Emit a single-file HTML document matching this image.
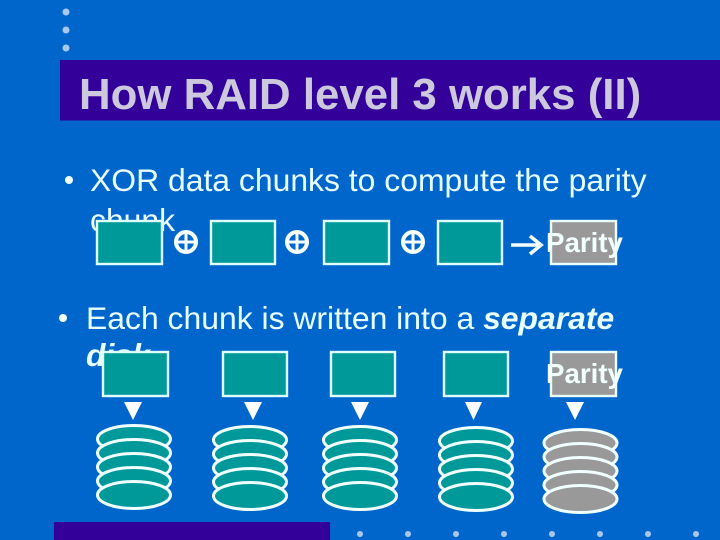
<!DOCTYPE html>
<html lang="en"><head><meta charset="utf-8"><title>How RAID level 3 works (II)</title>
<style>
html,body{margin:0;padding:0;background:#0066cc}
body{width:720px;height:540px;overflow:hidden}
svg{display:block}
text{font-family:"Liberation Sans",sans-serif}
.b{font-size:31.900px;fill:#e8ffff}
.p{font-size:27.700px;font-weight:bold;fill:#f2ffff}
.d{fill:#a9c8ee}
.r{fill:#009999;stroke:#e0ffff;stroke-width:2.400}
.g{fill:#999999;stroke:#e8ffff;stroke-width:2.400}
.e ellipse{fill:#009999;stroke:#f0ffff;stroke-width:3}
.h ellipse{fill:#999999;stroke:#f0ffff;stroke-width:3}
.t{fill:#fff}
.x{fill:none;stroke:#f8ffff}
</style></head><body>
<svg width="720" height="540" viewBox="0 0 720 540" xmlns="http://www.w3.org/2000/svg">
<rect width="720" height="540" fill="#0066cc"/>
<g class="d"><circle cx="66" cy="12" r="3.500"/><circle cx="66" cy="30" r="3.500"/><circle cx="66" cy="48" r="3.500"/>
<circle cx="360" cy="534" r="3"/><circle cx="408" cy="534" r="3"/><circle cx="456" cy="534" r="3"/><circle cx="504" cy="534" r="3"/><circle cx="552" cy="534" r="3"/><circle cx="600" cy="534" r="3"/><circle cx="648" cy="534" r="3"/><circle cx="696" cy="534" r="3"/></g>
<rect x="60" y="60" width="660" height="60.500" fill="#330099"/>
<rect x="54" y="522" width="276" height="18" fill="#330099"/>
<text x="79" y="109" font-size="43.800" font-weight="bold" fill="#ccc8de">How RAID level 3 works (II)</text>
<circle cx="69" cy="180" r="4" fill="#f0ffff"/>
<text class="b" x="90" y="191">XOR data chunks to compute the parity</text>
<text class="b" x="90" y="231">chunk</text>
<circle cx="63" cy="318" r="4" fill="#f0ffff"/>
<text class="b" x="86" y="329">Each chunk is written into a <tspan font-style="italic" font-weight="bold">separate</tspan></text>
<text class="b" x="86" y="366" font-style="italic" font-weight="bold">disk</text>

<rect class="r" x="97" y="221" width="65" height="43"/>
<rect class="r" x="211" y="221" width="64" height="43"/>
<rect class="r" x="324" y="221" width="65" height="43"/>
<rect class="r" x="438" y="221" width="64" height="43"/>
<rect class="g" x="551" y="221" width="65" height="43"/>

<g class="x" stroke-width="4">
<circle cx="186" cy="242" r="10"/><path d="M186 232V252M176 242H196" stroke-width="3"/>
<circle cx="297" cy="242" r="10"/><path d="M297 232V252M287 242H307" stroke-width="3"/>
<circle cx="413" cy="242" r="10"/><path d="M413 232V252M403 242H423" stroke-width="3"/>
</g>
<path d="M511 245H541M530 236L541 245L530 254" fill="none" stroke="#f8ffff" stroke-width="3.600"/>
<text class="p" x="546" y="252">Parity</text>

<rect class="r" x="103" y="352" width="65" height="44"/>
<rect class="r" x="223" y="352" width="64" height="44"/>
<rect class="r" x="331" y="352" width="64" height="44"/>
<rect class="r" x="444" y="352" width="64" height="44"/>
<rect class="g" x="551" y="352" width="65" height="44"/>
<text class="p" x="546" y="383">Parity</text>

<g class="t">
<path d="M124 402H142L133 420Z"/>
<path d="M244 402H262L253 420Z"/>
<path d="M351 402H369L360 420Z"/>
<path d="M465 402H482L473.500 420Z"/>
<path d="M566 402H584L575 420Z"/>
</g>

<g class="e">
<ellipse cx="134" cy="439" rx="36.500" ry="13.500"/><ellipse cx="134" cy="453" rx="36.500" ry="13.500"/><ellipse cx="134" cy="467" rx="36.500" ry="13.500"/><ellipse cx="134" cy="481" rx="36.500" ry="13.500"/><ellipse cx="134" cy="495" rx="36.500" ry="13.500"/>
</g>
<g class="e">
<ellipse cx="250" cy="440" rx="36.500" ry="13.500"/><ellipse cx="250" cy="454" rx="36.500" ry="13.500"/><ellipse cx="250" cy="468" rx="36.500" ry="13.500"/><ellipse cx="250" cy="482" rx="36.500" ry="13.500"/><ellipse cx="250" cy="496" rx="36.500" ry="13.500"/>
</g>
<g class="e">
<ellipse cx="360" cy="440" rx="36.500" ry="13.500"/><ellipse cx="360" cy="454" rx="36.500" ry="13.500"/><ellipse cx="360" cy="468" rx="36.500" ry="13.500"/><ellipse cx="360" cy="482" rx="36.500" ry="13.500"/><ellipse cx="360" cy="496" rx="36.500" ry="13.500"/>
</g>
<g class="e">
<ellipse cx="476" cy="441" rx="36.500" ry="13.500"/><ellipse cx="476" cy="455" rx="36.500" ry="13.500"/><ellipse cx="476" cy="469" rx="36.500" ry="13.500"/><ellipse cx="476" cy="483" rx="36.500" ry="13.500"/><ellipse cx="476" cy="497" rx="36.500" ry="13.500"/>
</g>
<g class="h">
<ellipse cx="580.500" cy="443" rx="36.500" ry="13.500"/><ellipse cx="580.500" cy="457" rx="36.500" ry="13.500"/><ellipse cx="580.500" cy="471" rx="36.500" ry="13.500"/><ellipse cx="580.500" cy="485" rx="36.500" ry="13.500"/><ellipse cx="580.500" cy="499" rx="36.500" ry="13.500"/>
</g>
</svg>
</body></html>
